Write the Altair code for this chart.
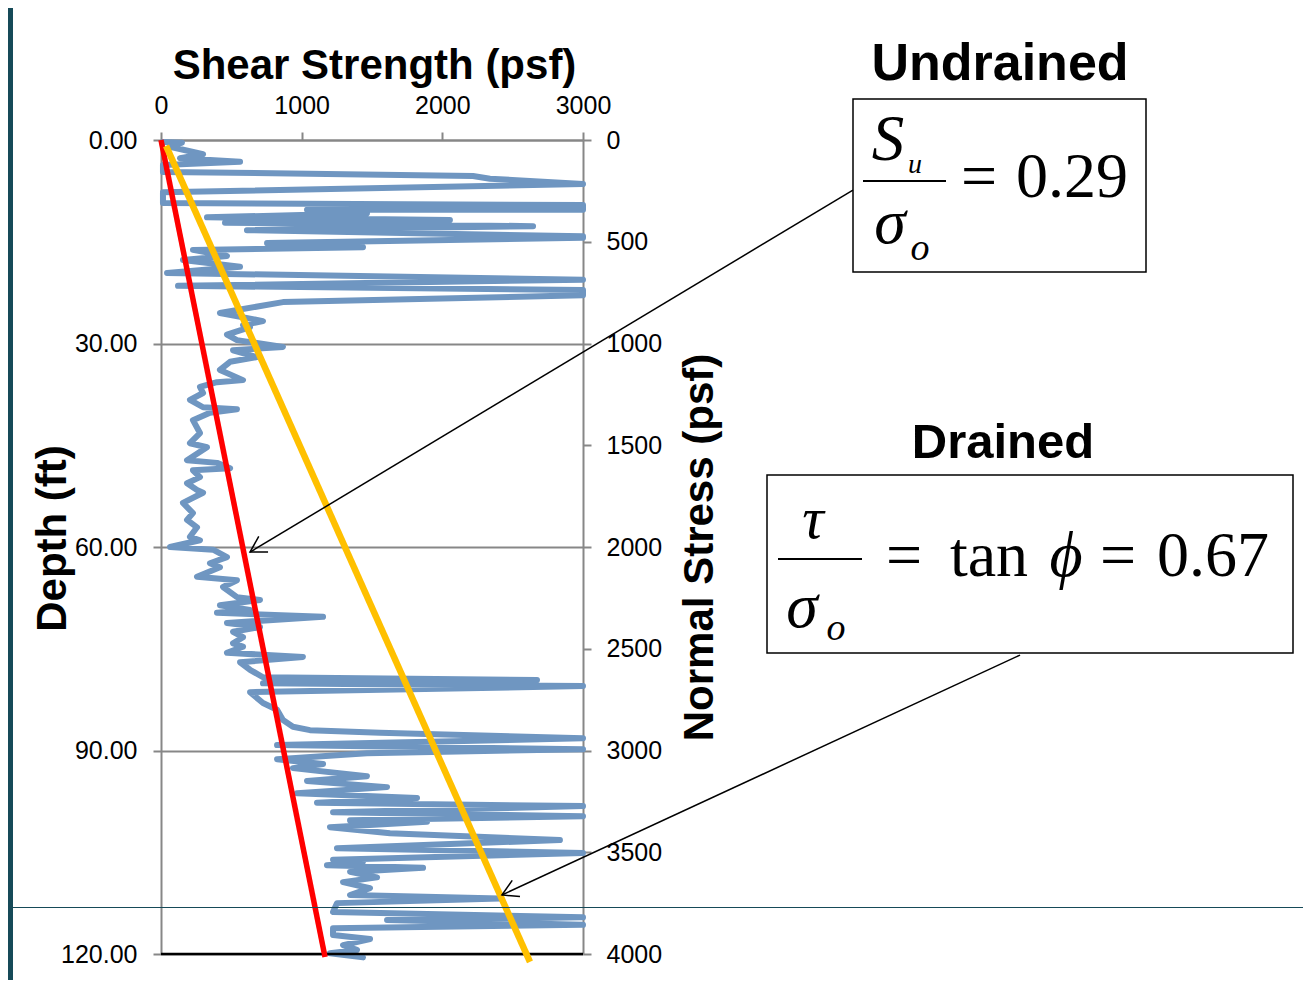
import altair as alt
import pandas as pd

# ---------------- data ----------------
# measured shear strength profile (psf) vs depth (ft)
shear_psf = [14, 149, 64, 299, 135, 562, 14, 14, 2218, 2339,
             3000, 14, 14, 3000, 3000, 1038, 1464, 327, 2054, 455,
             2645, 611, 3000, 3000, 754, 1436, 227, 469, 156, 562,
             43, 3000, 121, 3000, 3000, 867, 419, 725, 583,
             633, 469, 540, 867, 512, 682, 491, 419, 583, 398,
             277, 299, 206, 299, 540, 348, 227, 277, 206, 327,
             185, 398, 491, 227, 277, 185, 256, 299, 156, 227,
             185, 256, 206, 277, 64, 370, 469, 348, 419, 256,
             540, 441, 540, 704, 419, 633, 398, 1152,
             469, 704, 512, 583, 512, 583, 469, 1009, 562, 633,
             725, 2673, 725, 3000, 633, 725, 825, 867, 938, 1059,
             1557, 3000, 825, 3000, 1464, 825, 1152, 938, 1464, 1038,
             1607, 967, 1820, 1109, 3000, 1223, 3000, 1344, 1891, 1201,
             1628, 2836, 1251, 3000, 1223, 1436, 1180, 1863, 1344, 1536,
             1294, 1486, 1344, 2410, 1251, 1223, 3000, 1607, 3000, 1223,
             1223, 1486, 1294, 1393, 1201, 1436]
depth_ft = [0.3, 0.4, 1.0, 2.1, 2.7, 3.2, 3.7, 4.7, 5.3, 5.7,
            6.5, 7.7, 9.3, 9.6, 10.3, 10.3, 10.8, 11.4, 11.8, 12.2,
            12.7, 13.3, 14.2, 14.4, 15.2, 15.8, 16.2, 17.1, 17.7, 18.7,
            19.6, 20.6, 21.5, 22.1, 22.9, 23.9, 25.5, 26.7, 27.3,
            27.6, 28.7, 29.5, 30.5, 31.0, 32.0, 32.7, 33.9, 35.4, 35.7,
            36.4, 37.3, 38.3, 39.4, 39.7, 40.2, 41.3, 43.2, 44.7, 45.3,
            47.2, 47.6, 48.4, 48.7, 49.7, 50.6, 51.6, 52.0, 53.5, 55.0,
            56.0, 57.1, 58.5, 59.0, 60.0, 60.4, 61.5, 62.4, 63.0, 64.4,
            64.9, 65.9, 67.4, 67.8, 68.6, 69.3, 69.7, 70.3,
            71.2, 71.8, 72.5, 73.3, 74.2, 74.7, 75.6, 76.2, 77.0, 78.1,
            79.2, 79.6, 80.1, 80.5, 81.4, 83.0, 84.0, 85.5, 86.5, 87.0,
            87.4, 88.2, 89.2, 89.8, 90.4, 91.3, 92.0, 92.6, 93.8, 94.5,
            95.4, 96.3, 97.0, 97.7, 98.2, 99.1, 99.7, 100.3, 100.5, 101.3,
            102.2, 103.2, 104.4, 105.1, 106.1, 106.4, 106.9, 107.3, 107.9, 108.7,
            109.4, 110.3, 111.3, 111.8, 112.5, 113.8, 114.6, 115.0, 115.7, 116.2,
            117.2, 117.8, 118.7, 119.4, 119.9, 120.5]

# undrained ratio line (Su/sigma = 0.29): shear vs normal stress
red_shear = [0, 1166]
red_sigma = [0, 4015]
# drained line (tan phi = 0.67)
yellow_shear = [36, 2623]
yellow_sigma = [29, 4039]
# bottom axis line
base_shear = [0, 3000]
base_sigma = [4000, 4000]
# arrows (shear psf, normal stress psf): shaft start -> tip, head h1 -> tip -> h2
arrow1_shaft_shear = [4919, 633]
arrow1_shaft_sigma = [246, 2025]
arrow1_head_shear = [761, 633, 695]
arrow1_head_sigma = [2025, 2025, 1948]
arrow2_shaft_shear = [6107, 2424]
arrow2_shaft_sigma = [2531, 3710]
arrow2_head_shear = [2552, 2424, 2497]
arrow2_head_sigma = [3718, 3710, 3638]

depth_ticks = [0, 30, 60, 90, 120]
shear_ticks = [0, 1000, 2000, 3000]
sigma_ticks = [0, 500, 1000, 1500, 2000, 2500, 3000, 3500, 4000]

SANS = "Liberation Sans"
SERIF = "Liberation Serif"
GREY = "#878787"

# ---------------- scales & axes ----------------
x_scale = alt.Scale(domain=[0, 3000], nice=False, zero=False)
depth_scale = alt.Scale(domain=[0, 120], nice=False, reverse=True)
sig_scale = alt.Scale(domain=[0, 4000], nice=False, reverse=True)

x_axis = alt.Axis(
    orient="top", values=shear_ticks, format="d", grid=False,
    labelFontSize=25, labelPadding=14, labelFlush=False, labelColor="black",
    tickSize=8, tickWidth=2, tickColor=GREY, domainColor=GREY, domainWidth=2,
    title="Shear Strength (psf)", titleFontSize=42, titleFontWeight="bold",
    titleColor="black", titleX=213, titleY=-62, titleAlign="center",
    titleBaseline="alphabetic")

depth_axis = alt.Axis(
    orient="left", values=depth_ticks, format=".2f", grid=True,
    gridColor=GREY, gridWidth=2,
    labelFontSize=25, labelPadding=16, labelFlush=False, labelColor="black",
    tickSize=8, tickWidth=2, tickColor=GREY, domainColor=GREY, domainWidth=2,
    title="Depth (ft)", titleFontSize=42, titleFontWeight="bold",
    titleColor="black", titleAngle=270, titleX=-96, titleY=398,
    titleAlign="center", titleBaseline="alphabetic")

sigma_axis = alt.Axis(
    orient="right", values=sigma_ticks, format="d", grid=False,
    labelFontSize=25, labelPadding=15, labelFlush=False, labelColor="black",
    tickSize=8, tickWidth=2, tickColor=GREY, domainColor=GREY, domainWidth=2,
    title="Normal Stress (psf)", titleFontSize=42, titleFontWeight="bold",
    titleColor="black", titleAngle=270, titleX=129, titleY=407,
    titleAlign="center", titleBaseline="alphabetic")

blue_df = pd.DataFrame({"shear": shear_psf, "depth": depth_ft, "i": range(len(shear_psf))})

blue = alt.Chart(blue_df).mark_line(
    color="#6F96C1", strokeWidth=6, strokeCap="round", strokeJoin="round"
).encode(
    x=alt.X("shear:Q", scale=x_scale, axis=x_axis),
    y=alt.Y("depth:Q", scale=depth_scale, axis=depth_axis),
    order="i:Q",
)


def seg(shears, sigmas, color, width):
    df = pd.DataFrame({"shear": shears, "sigma": sigmas, "o": range(len(shears))})
    return alt.Chart(df).mark_line(color=color, strokeWidth=width, strokeCap="butt").encode(
        x=alt.X("shear:Q", scale=x_scale, axis=x_axis),
        y=alt.Y("sigma:Q", scale=sig_scale, axis=sigma_axis),
        order="o:Q",
    )


stress = alt.layer(
    seg(base_shear, base_sigma, "black", 2.5),
    seg(red_shear, red_sigma, "#FF0000", 5.5),
    seg(yellow_shear, yellow_sigma, "#FFC000", 6.5),
    seg(arrow1_shaft_shear, arrow1_shaft_sigma, "black", 1.5),
    seg(arrow1_head_shear, arrow1_head_sigma, "black", 1.5),
    seg(arrow2_shaft_shear, arrow2_shaft_sigma, "black", 1.5),
    seg(arrow2_head_shear, arrow2_head_sigma, "black", 1.5),
)

# ---------------- annotations (pixel positions relative to plot origin) ----------------
one = pd.DataFrame({"a": [0]})


def txt(s, x, y, size, font=SERIF, style="normal", weight="normal", align="center"):
    return alt.Chart(one).mark_text(
        font=font, fontSize=size, fontStyle=style, fontWeight=weight,
        align=align, baseline="alphabetic", color="black"
    ).encode(x=alt.value(x), y=alt.value(y), text=alt.value(s))


def box(x1, x2, y1, y2, color="black", width=1.5, fill=None):
    if fill is None:
        return alt.Chart(one).mark_rect(fillOpacity=0, stroke=color, strokeWidth=width).encode(
            x=alt.value(x1), x2=alt.value(x2), y=alt.value(y1), y2=alt.value(y2))
    return alt.Chart(one).mark_rect(color=fill, strokeWidth=0).encode(
        x=alt.value(x1), x2=alt.value(x2), y=alt.value(y1), y2=alt.value(y2))


def hrule(x1, x2, y, color="black", width=2):
    return alt.Chart(one).mark_rule(color=color, strokeWidth=width).encode(
        x=alt.value(x1), x2=alt.value(x2), y=alt.value(y))


annotations = [
    box(-153, -148, -132, 840, fill="#164A58"),
    hrule(-149, 1142, 767.5, color="#164A58", width=1.2),
    # Undrained
    txt("Undrained", 839, -60, 52, font=SANS, weight="bold"),
    box(692, 985, -41, 132),
    txt("S", 727, 20, 65, style="italic"),
    txt("u", 754, 33, 28, style="italic"),
    hrule(702, 785, 41, width=2),
    txt("σ", 729, 103, 64, style="italic"),
    txt("o", 759, 120, 38, style="italic"),
    txt("=", 818, 57, 64),
    txt("0.29", 911, 57, 64),
    # Drained
    txt("Drained", 842, 318, 49, font=SANS, weight="bold"),
    box(606, 1132, 335, 513),
    txt("τ", 652, 398, 60, style="italic"),
    hrule(617, 701, 419, width=2),
    txt("σ", 641, 487, 64, style="italic"),
    txt("o", 675, 500, 38, style="italic"),
    txt("=", 743, 436, 64),
    txt("tan", 828, 436, 64),
    txt("ϕ", 905, 436, 64, style="italic"),
    txt("=", 957, 436, 64),
    txt("0.67", 1052, 436, 64),
]

chart = alt.layer(blue, stress, *annotations).resolve_scale(
    y="independent"
).properties(
    width=422, height=814,
    padding={"left": 153, "top": 132, "right": 720, "bottom": 26},
    autosize=alt.AutoSizeParams(type="none"),
    background="white",
).configure_view(stroke=None).configure_axis(labelFont=SANS, titleFont=SANS)

chart.save("out.html", embed_options={"renderer": "svg", "actions": False})
